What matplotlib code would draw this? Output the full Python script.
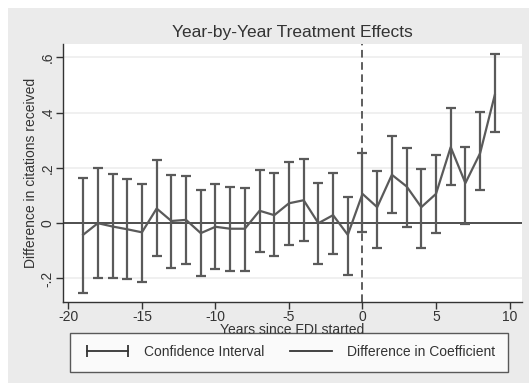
import matplotlib
matplotlib.use('Agg')
import matplotlib.pyplot as plt
from matplotlib.lines import Line2D
from matplotlib.patches import Rectangle

plt.rcParams['font.family'] = ['Liberation Sans', 'DejaVu Sans']
plt.rcParams['axes.unicode_minus'] = False

years = list(range(-19, 10))
coef = [-0.042, 0.0, -0.012, -0.022, -0.033, 0.053, 0.008, 0.012, -0.036, -0.013,
        -0.020, -0.020, 0.045, 0.029, 0.072, 0.083, 0.0, 0.029, -0.042, 0.106,
        0.058, 0.175, 0.133, 0.058, 0.106, 0.275, 0.145, 0.253, 0.464]
ci_upper = [0.163, 0.201, 0.178, 0.160, 0.143, 0.229, 0.174, 0.171, 0.121, 0.140,
            0.131, 0.129, 0.194, 0.181, 0.221, 0.233, 0.147, 0.181, 0.093, 0.253,
            0.190, 0.316, 0.272, 0.195, 0.246, 0.417, 0.275, 0.401, 0.612]
ci_lower = [-0.251, -0.200, -0.200, -0.203, -0.213, -0.119, -0.163, -0.149, -0.190, -0.166,
            -0.174, -0.174, -0.104, -0.119, -0.078, -0.065, -0.148, -0.112, -0.188, -0.031,
            -0.088, 0.037, -0.013, -0.088, -0.034, 0.137, -0.002, 0.121, 0.329]

line_col = '#5a5a5a'
bg = '#ebebeb'

fig = plt.figure(figsize=(5.29, 3.83), dpi=100, facecolor='white')
# stata-style gray background panel (small white margin top/left)
fig.patches.append(Rectangle((8 / 529, 0), 1, 1 - 8 / 383, transform=fig.transFigure,
                             facecolor=bg, edgecolor='none', zorder=-10))

ax = fig.add_axes([62.7 / 529, 1 - 302 / 383, (522 - 62.7) / 529, (302 - 44) / 383])
ax.set_facecolor('white')

err_lo = [c - l for c, l in zip(coef, ci_lower)]
err_hi = [u - c for c, u in zip(coef, ci_upper)]
ax.errorbar(years, coef, yerr=[err_lo, err_hi], fmt='none', ecolor=line_col,
            elinewidth=1.6, capsize=3.5, capthick=1.6, zorder=3)
ax.plot(years, coef, color=line_col, lw=1.6, zorder=4)

ax.axhline(0, color='#222222', lw=1.1, zorder=2)
ax.axvline(0, color='#333333', lw=1.1, ls=(0, (5, 3)), zorder=2)

ax.set_xlim(-20.39, 10.85)
ax.set_ylim(-0.285, 0.648)
ax.set_xticks([-20, -15, -10, -5, 0, 5, 10])
ax.set_yticks([-0.2, 0, 0.2, 0.4, 0.6])
ax.set_yticklabels(['-.2', '0', '.2', '.4', '.6'], rotation=90, va='center')
ax.yaxis.grid(True, color='#eeeeee', lw=1.2, zorder=0)
ax.set_axisbelow(True)

for s in ['top', 'right']:
    ax.spines[s].set_visible(False)
for s in ['left', 'bottom']:
    ax.spines[s].set_color('#333333')
    ax.spines[s].set_linewidth(1.0)
ax.tick_params(axis='both', colors='#333333', labelcolor='#333333', labelsize=10,
               length=5, width=1.0)
ax.tick_params(axis='x', pad=1)
ax.tick_params(axis='y', pad=1)

ax.set_xlabel('Years since FDI started', fontsize=10, color='#333333', labelpad=-1)
ax.set_ylabel('Difference in citations received', fontsize=10, color='#333333', labelpad=2)

fig.text(292 / 529, 1 - 33 / 383, 'Year-by-Year Treatment Effects', ha='center', va='center',
         fontsize=12.5, color='#333333')

h_ci = Line2D([], [], color='#333333', lw=1.3, marker='|', markersize=8, markeredgewidth=1.3)
h_coef = Line2D([], [], color='#333333', lw=1.3)
leg = fig.legend([h_ci, h_coef], ['Confidence Interval', 'Difference in Coefficient'],
                 loc='center', bbox_to_anchor=(289 / 529, 1 - 352 / 383), ncol=2,
                 numpoints=2, frameon=True, fancybox=False, edgecolor='#333333',
                 fontsize=10, handlelength=3.6, columnspacing=1.6, borderpad=0.9,
                 handletextpad=0.8)
leg.get_frame().set_linewidth(1.0)
for t in leg.get_texts():
    t.set_color('#333333')

fig.savefig('out.png', dpi=100, facecolor=fig.get_facecolor())
